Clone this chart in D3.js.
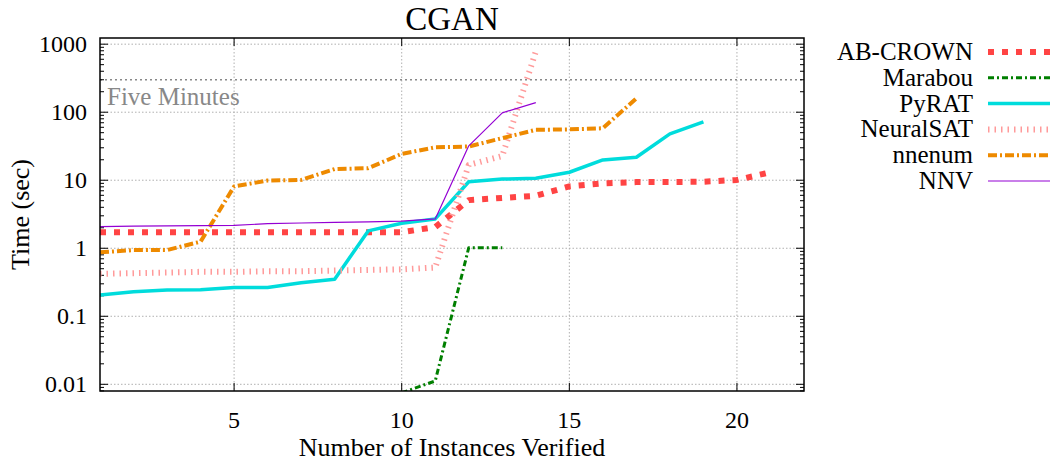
<!DOCTYPE html>
<html>
<head>
<meta charset="utf-8">
<script src="https://cdn.jsdelivr.net/npm/d3@7"></script>
<style>
  body { margin: 0; background: #fff; }
</style>
</head>
<body>
<div id="chart"></div>
<script>
// instances verified (x) and sorted runtimes (sec) per tool
const abcrownX = d3.range(1, 22);
const abcrownY = [1.72, 1.72, 1.72, 1.72, 1.72, 1.72, 1.72, 1.72, 1.72, 1.72, 2.05, 5.1, 5.5, 5.9, 8.1, 9.0, 9.4, 9.4, 9.5, 10.1, 13.1];
const marabouX = [10, 11, 12, 13];
const marabouY = [0.0075, 0.0112, 1.02, 1.02];
const pyratX = d3.range(1, 20);
const pyratY = [0.206, 0.23, 0.244, 0.245, 0.264, 0.264, 0.31, 0.35, 1.8, 2.33, 2.7, 9.5, 10.4, 10.7, 13.1, 19.9, 21.8, 48, 72];
const neuralsatX = d3.range(1, 15);
const neuralsatY = [0.42, 0.43, 0.44, 0.45, 0.45, 0.46, 0.46, 0.47, 0.48, 0.49, 0.52, 16.8, 22.7, 780];
const nnenumX = d3.range(1, 18);
const nnenumY = [0.87, 0.94, 0.94, 1.25, 8.1, 9.9, 10.1, 14.6, 15, 24.4, 30.5, 31.3, 41.6, 55, 56, 58, 160];
const nnvX = d3.range(1, 15);
const nnvY = [2.08, 2.12, 2.14, 2.15, 2.17, 2.3, 2.35, 2.4, 2.45, 2.5, 2.7, 32, 98, 138];

const seriesNames = ["AB-CROWN", "Marabou", "PyRAT", "NeuralSAT", "nnenum", "NNV"];
const xTicks = [5, 10, 15, 20];
const yTicks = [0.01, 0.1, 1, 10, 100, 1000];
const yTickLabels = ["0.01", "0.1", "1", "10", "100", "1000"];
const fiveMinutes = 300;

const width = 1055, height = 466;
const pLeft = 100, pRight = 804, pTop = 38, pBottom = 391;

const styles = [
    {color: "#ff4444", w: 6, dash: "6,8"},
    {color: "#007f00", w: 3, dash: "6,3,2,3"},
    {color: "#00dcdc", w: 3.5, dash: null},
    {color: "#ff9a9a", w: 6, dash: "1.5,5"},
    {color: "#ee8a00", w: 4, dash: "9,3,2,3"},
    {color: "#9400d3", w: 1.2, dash: null}
];

const series = [
    abcrownX.map((x, i) => ({x: x, y: abcrownY[i]})),
    marabouX.map((x, i) => ({x: x, y: marabouY[i]})),
    pyratX.map((x, i) => ({x: x, y: pyratY[i]})),
    neuralsatX.map((x, i) => ({x: x, y: neuralsatY[i]})),
    nnenumX.map((x, i) => ({x: x, y: nnenumY[i]})),
    nnvX.map((x, i) => ({x: x, y: nnvY[i]}))
];

const svg = d3.select('#chart').append('svg')
    .attr('width', width)
    .attr('height', height)
    .attr('font-family', '"Liberation Serif", "Times New Roman", serif');

const x = d3.scaleLinear().domain([1, 22]).range([pLeft, pRight]);
const y = d3.scaleLog().domain([0.00797, 1233]).range([pBottom, pTop]);

svg.append('clipPath').attr('id', 'clip')
    .append('rect')
    .attr('x', pLeft).attr('y', pTop)
    .attr('width', pRight - pLeft).attr('height', pBottom - pTop);

// grid
const grid = svg.append('g');
xTicks.forEach(t => {
    grid.append('line')
        .attr('x1', x(t)).attr('x2', x(t))
        .attr('y1', pTop).attr('y2', pBottom)
        .attr('stroke', '#b0b0b0').attr('stroke-width', 1)
        .attr('stroke-dasharray', '1.5,2');
});
yTicks.forEach(t => {
    grid.append('line')
        .attr('x1', pLeft).attr('x2', pRight)
        .attr('y1', y(t)).attr('y2', y(t))
        .attr('stroke', '#b0b0b0').attr('stroke-width', 1)
        .attr('stroke-dasharray', '1.5,2');
});

// five minutes
svg.append('line')
    .attr('x1', pLeft).attr('x2', pRight)
    .attr('y1', y(fiveMinutes)).attr('y2', y(fiveMinutes))
    .attr('stroke', '#888').attr('stroke-width', 1.5)
    .attr('stroke-dasharray', '2,3');
svg.append('text')
    .attr('x', pLeft + 7).attr('y', y(fiveMinutes) + 25)
    .attr('font-size', 25).attr('fill', '#888')
    .text('Five Minutes');

// ticks
const ticks = svg.append('g').attr('stroke', '#000').attr('stroke-width', 1);
xTicks.forEach(t => {
    ticks.append('line').attr('x1', x(t)).attr('x2', x(t)).attr('y1', pBottom).attr('y2', pBottom - 8);
    ticks.append('line').attr('x1', x(t)).attr('x2', x(t)).attr('y1', pTop).attr('y2', pTop + 8);
});
yTicks.forEach(t => {
    ticks.append('line').attr('x1', pLeft).attr('x2', pLeft + 8).attr('y1', y(t)).attr('y2', y(t));
    ticks.append('line').attr('x1', pRight).attr('x2', pRight - 8).attr('y1', y(t)).attr('y2', y(t));
});
y.ticks().filter(t => yTicks.indexOf(t) < 0).forEach(t => {
    if (t < y.domain()[0] || t > y.domain()[1]) return;
    ticks.append('line').attr('x1', pLeft).attr('x2', pLeft + 4).attr('y1', y(t)).attr('y2', y(t));
    ticks.append('line').attr('x1', pRight).attr('x2', pRight - 4).attr('y1', y(t)).attr('y2', y(t));
});

// lines
let lineGenerator = d3.line()
    .x(d => x(d.x))
    .y(d => y(d.y))
    .curve(d3.curveLinear);

const lineGroup = svg.append('g').attr('clip-path', 'url(#clip)');
series.forEach((s, i) => {
    lineGroup.append('path')
        .attr('d', lineGenerator(s))
        .attr('fill', 'none')
        .attr('stroke', styles[i].color)
        .attr('stroke-width', styles[i].w)
        .attr('stroke-dasharray', styles[i].dash)
        .attr('stroke-linejoin', 'round');
});

// frame
svg.append('rect')
    .attr('x', pLeft).attr('y', pTop)
    .attr('width', pRight - pLeft).attr('height', pBottom - pTop)
    .attr('fill', 'none').attr('stroke', '#000').attr('stroke-width', 1.5);

// tick labels
xTicks.forEach(t => {
    svg.append('text').attr('x', x(t)).attr('y', 428)
        .attr('text-anchor', 'middle').attr('font-size', 24).text(t);
});
yTicks.forEach((t, i) => {
    svg.append('text').attr('x', 87).attr('y', y(t) + 8)
        .attr('text-anchor', 'end').attr('font-size', 24).text(yTickLabels[i]);
});

// titles
svg.append('text').attr('x', (pLeft + pRight) / 2).attr('y', 30)
    .attr('text-anchor', 'middle').attr('font-size', 33).text('CGAN');
svg.append('text').attr('x', (pLeft + pRight) / 2).attr('y', 456)
    .attr('text-anchor', 'middle').attr('font-size', 26).text('Number of Instances Verified');
svg.append('text')
    .attr('transform', `translate(29,${(pTop + pBottom) / 2}) rotate(-90)`)
    .attr('text-anchor', 'middle').attr('font-size', 26).text('Time (sec)');

// legend
const legend = svg.append('g');
seriesNames.forEach((name, i) => {
    const ly = 52 + i * 25.8;
    legend.append('text').attr('x', 973).attr('y', ly + 8)
        .attr('text-anchor', 'end').attr('font-size', 25).text(name);
    legend.append('line')
        .attr('x1', 988).attr('x2', 1050)
        .attr('y1', ly).attr('y2', ly)
        .attr('stroke', styles[i].color)
        .attr('stroke-width', styles[i].w)
        .attr('stroke-dasharray', styles[i].dash);
});
</script>
</body>
</html>
